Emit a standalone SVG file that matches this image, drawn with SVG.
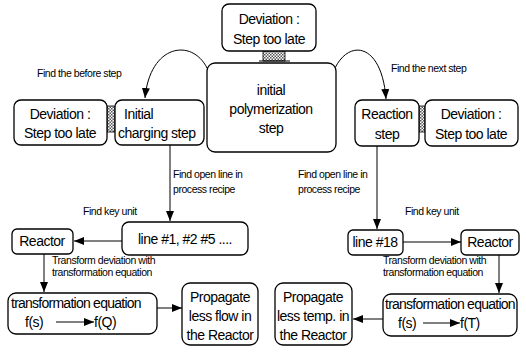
<svg xmlns="http://www.w3.org/2000/svg" width="526" height="355" viewBox="0 0 526 355">
<defs>
<pattern id="hatch" width="3" height="3" patternUnits="userSpaceOnUse">
<rect width="3" height="3" fill="#ffffff"/>
<rect width="1.5" height="1.5" fill="#555"/>
<rect x="1.5" y="1.5" width="1.5" height="1.5" fill="#555"/>
</pattern>
<marker id="ah" viewBox="0 0 10 8" refX="10" refY="4" markerWidth="10" markerHeight="8" markerUnits="userSpaceOnUse" orient="auto">
<path d="M0,0 L10,4 L0,8 Z" fill="#000"/>
</marker>
</defs>
<style>
.box{fill:#fff;stroke:#000;stroke-width:1.3}
.t{font-family:"Liberation Sans",Arial,sans-serif;font-size:14px;fill:#000;letter-spacing:-0.5px}
.eq{letter-spacing:-0.75px}
.s{font-family:"Liberation Sans",Arial,sans-serif;font-size:10.5px;fill:#000;letter-spacing:-0.45px}
.c{fill:none;stroke:#000;stroke-width:1}
.h{fill:url(#hatch);stroke:#000;stroke-width:0.8}
</style>
<rect width="526" height="355" fill="#fff"/>
<g id="connectors">
<path class="c" d="M207,68 C192,38 150,44 145,98" marker-end="url(#ah)"/>
<path class="c" d="M335,68 C350,38 382,44 386,99" marker-end="url(#ah)"/>
<line class="c" x1="170" y1="145" x2="170" y2="221" marker-end="url(#ah)"/>
<line class="c" x1="377" y1="146" x2="377" y2="229" marker-end="url(#ah)"/>
<line class="c" x1="122" y1="241" x2="74" y2="241" marker-end="url(#ah)"/>
<line class="c" x1="403" y1="242" x2="461" y2="242" marker-end="url(#ah)"/>
<line class="c" x1="44" y1="254" x2="44" y2="292" marker-end="url(#ah)"/>
<line class="c" x1="499" y1="255" x2="499" y2="293" marker-end="url(#ah)"/>
<line class="c" x1="157" y1="308" x2="182" y2="308" marker-end="url(#ah)"/>
<line class="c" x1="383" y1="319" x2="353" y2="319" marker-end="url(#ah)"/>
<rect class="h" x="263" y="51" width="22" height="10"/>
<line class="c" x1="259" y1="61" x2="290" y2="61"/>
<rect class="h" x="107" y="106" width="8" height="26"/>
<rect class="h" x="419" y="106" width="6" height="26"/>
</g>
<g id="n-top">
<rect class="box" x="222" y="4" width="94" height="47" rx="7"/>
<text class="t" x="269" y="24" text-anchor="middle">Deviation :</text>
<text class="t" x="269" y="44" text-anchor="middle">Step too late</text>
</g>
<g id="n-poly">
<rect class="box" x="207" y="63" width="129" height="89" rx="8"/>
<text class="t" x="271" y="95" text-anchor="middle">initial</text>
<text class="t" x="271" y="114" text-anchor="middle">polymerization</text>
<text class="t" x="271" y="133" text-anchor="middle">step</text>
</g>
<g id="n-devleft">
<rect class="box" x="14" y="100" width="93" height="45" rx="7"/>
<text class="t" x="60" y="119" text-anchor="middle">Deviation :</text>
<text class="t" x="60" y="138" text-anchor="middle">Step too late</text>
</g>
<g id="n-charge">
<rect class="box" x="115" y="100" width="89" height="45" rx="7"/>
<text class="t" x="124" y="119">Initial</text>
<text class="t" x="118" y="138">charging step</text>
</g>
<g id="n-react">
<rect class="box" x="355" y="100" width="64" height="46" rx="7"/>
<text class="t" x="387" y="119" text-anchor="middle">Reaction</text>
<text class="t" x="387" y="139" text-anchor="middle">step</text>
</g>
<g id="n-devright">
<rect class="box" x="425" y="100" width="93" height="46" rx="7"/>
<text class="t" x="471" y="119" text-anchor="middle">Deviation :</text>
<text class="t" x="471" y="139" text-anchor="middle">Step too late</text>
</g>
<g id="n-line1">
<rect class="box" x="122" y="222" width="126" height="33" rx="7"/>
<text class="t" x="185" y="244" text-anchor="middle">line #1, #2 #5 ....</text>
</g>
<g id="n-reactorL">
<rect class="box" x="12" y="229" width="61" height="25" rx="5"/>
<text class="t" x="42" y="246" text-anchor="middle">Reactor</text>
</g>
<g id="n-line18">
<rect class="box" x="348" y="230" width="55" height="25" rx="5"/>
<text class="t" x="375" y="247" text-anchor="middle">line #18</text>
</g>
<g id="n-reactorR">
<rect class="box" x="461" y="230" width="58" height="25" rx="5"/>
<text class="t" x="490" y="247" text-anchor="middle">Reactor</text>
</g>
<g id="n-transL">
<rect class="box" x="8" y="293" width="149" height="41" rx="8"/>
<text class="t eq" x="11" y="308">transformation equation</text>
<text class="t" x="25" y="327">f(s)</text>
<line class="c" x1="56" y1="322" x2="94" y2="322" marker-end="url(#ah)"/>
<text class="t" x="94" y="327">f(Q)</text>
</g>
<g id="n-propL">
<rect class="box" x="182" y="283" width="76" height="62" rx="8"/>
<text class="t" x="220" y="302" text-anchor="middle">Propagate</text>
<text class="t" x="220" y="321" text-anchor="middle">less flow in</text>
<text class="t" x="220" y="340" text-anchor="middle">the Reactor</text>
</g>
<g id="n-propR">
<rect class="box" x="275" y="283" width="77" height="62" rx="8"/>
<text class="t" x="313" y="302" text-anchor="middle">Propagate</text>
<text class="t" x="313" y="321" text-anchor="middle">less temp. in</text>
<text class="t" x="313" y="340" text-anchor="middle">the Reactor</text>
</g>
<g id="n-transR">
<rect class="box" x="383" y="294" width="134" height="42" rx="8"/>
<text class="t eq" x="385" y="309">transformation equation</text>
<text class="t" x="398" y="328">f(s)</text>
<line class="c" x1="423" y1="323" x2="460" y2="323" marker-end="url(#ah)"/>
<text class="t" x="460" y="328">f(T)</text>
</g>
<g id="labels">
<text class="s" x="37" y="77">Find the before step</text>
<text class="s" x="391" y="72">Find the next step</text>
<text class="s" x="173" y="178">Find open line in</text>
<text class="s" x="173" y="193">process recipe</text>
<text class="s" x="83" y="215">Find key unit</text>
<text class="s" x="298" y="178">Find open line in</text>
<text class="s" x="298" y="193">process recipe</text>
<text class="s" x="405" y="215">Find key unit</text>
<text class="s" x="52" y="264">Transform deviation with</text>
<text class="s" x="52" y="276">transformation equation</text>
<text class="s" x="383" y="264">Transform deviation with</text>
<text class="s" x="383" y="276">transformation equation</text>
</g>
</svg>
